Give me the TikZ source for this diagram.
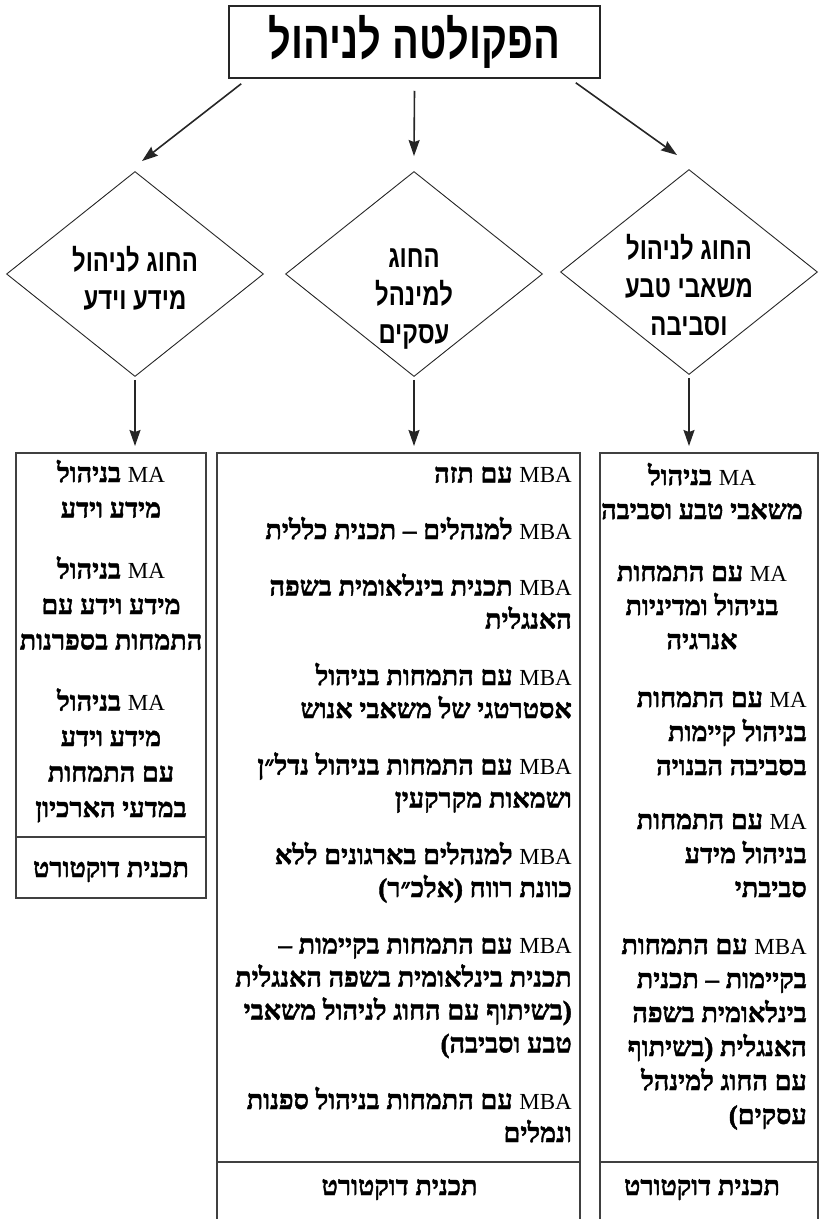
\documentclass[tikz,border=0pt]{standalone}
\usepackage{fontspec}
\setmainfont{Liberation Serif}
\newfontfamily\hebfont[Script=Hebrew,UprightFont=*,BoldFont=* Bold,BoldFeatures={FakeBold=1.6}]{Liberation Serif}
\newfontfamily\condfont[Script=Hebrew,FakeStretch=0.75,UprightFont=* Bold,BoldFont=* Bold]{Liberation Sans}
\newfontfamily\deptfont[Script=Hebrew,FakeStretch=0.77,UprightFont=* Bold,BoldFont=* Bold]{Liberation Sans}
\TeXXeTstate=1
\usetikzlibrary{arrows.meta,positioning,shapes.geometric}
\newcommand{\rl}[1]{\beginR#1\endR}
\newcommand{\lat}[1]{\beginL{\rmfamily\mdseries\fontsize{23}{\baselineskip}\selectfont#1}\endL}
\tikzset{
  faculty/.style={rectangle, draw=black!85, line width=1.5pt, minimum width=371pt,
    minimum height=72pt, inner sep=0pt, font=\condfont\fontsize{53}{60}\selectfont},
  dept/.style={diamond, draw=black!85, line width=0.9pt, minimum width=257pt,
    minimum height=205pt, inner sep=0pt},
  deptname/.style={inner sep=0pt, align=center, font=\deptfont\fontsize{31}{38}\selectfont},
  progbox/.style={rectangle, draw=black!75, line width=1.1pt, inner sep=0pt, outer sep=0pt},
  prog/.style={inner sep=0pt, font=\hebfont\bfseries\fontsize{27}{#1}\selectfont},
  prog/.default=34,
  flow/.style={-{Stealth[length=16pt,width=11pt,inset=2pt]}, line width=1.6pt, draw=black!85},
  rule/.style={line width=1.1pt, draw=black!75},
}

\begin{document}
\begin{tikzpicture}[x=1pt, y=-1pt]
  \useasboundingbox (0,0) rectangle (820,1219);
  \node[faculty] (fac) at (414.5,42) {\rl{הפקולטה לניהול}};
  % departments
  \node[dept, label={[deptname, name=knwname, yshift=-4pt]center:{\rl{החוג לניהול}\\\rl{מידע וידע}}}]
    (knw) at (135,274) {};
  \node[dept, label={[deptname, name=busname, yshift=-25pt]center:{\rl{החוג}\\\rl{למינהל}\\\rl{עסקים}}}]
    (bus) at (414,274) {};
  \node[dept, label={[deptname, name=envname, yshift=-13pt]center:{\rl{החוג לניהול}\\\rl{משאבי טבע}\\\rl{וסביבה}}}]
    (env) at (689,272) {};
  \draw[flow] ([xshift=13pt,yshift=-5pt]fac.south west) -- ([xshift=7pt,yshift=10pt]knw.north);
  \draw[flow] ([yshift=-12pt]fac.south) -- ([yshift=15pt]bus.north);
  \draw[flow] ([xshift=-25pt,yshift=-4pt]fac.south east) -- ([xshift=-12pt,yshift=14pt]env.north);
  % programme boxes
  \node[progbox, minimum width=190pt, minimum height=445pt] (lbox) at (111,675.5) {};
  \node[progbox, minimum width=363pt, minimum height=772pt] (mbox) at (398.5,839) {};
  \node[progbox, minimum width=218pt, minimum height=772pt] (rbox) at (709,839) {};
  \draw[flow, shorten <=3pt, shorten >=7pt] (knw.south) -- (knw.south |- lbox.north);
  \draw[flow, shorten <=3pt, shorten >=7pt] (bus.south) -- (bus.south |- mbox.north);
  \draw[flow, shorten <=3pt, shorten >=7pt] (env.south) -- (env.south |- rbox.north);
  \node[prog=35.5, anchor=base, align=center] (malist) at (111,817)
    {\rl{\lat{MA} בניהול}\\\rl{מידע וידע}\\[25.5pt]
     \rl{\lat{MA} בניהול}\\\rl{מידע וידע עם}\\\rl{התמחות בספרנות}\\[25.5pt]
     \rl{\lat{MA} בניהול}\\\rl{מידע וידע}\\\rl{עם התמחות}\\\rl{במדעי הארכיון}};
  \node[prog=33, anchor=base east, align=right] (mbalist) at (572,1142)
    {\rl{\lat{MBA} עם תזה}\\[23.5pt]
     \rl{\lat{MBA} למנהלים – תכנית כללית}\\[23.5pt]
     \rl{\lat{MBA} תכנית בינלאומית בשפה}\\\rl{האנגלית}\\[23.5pt]
     \rl{\lat{MBA} עם התמחות בניהול}\\\rl{אסטרטגי של משאבי אנוש}\\[23.5pt]
     \rl{\lat{MBA} עם התמחות בניהול נדל״ן}\\\rl{ושמאות מקרקעין}\\[23.5pt]
     \rl{\lat{MBA} למנהלים בארגונים ללא}\\\rl{כוונת רווח (אלכ״ר)}\\[23.5pt]
     \rl{\lat{MBA} עם התמחות בקיימות –}\\\rl{תכנית בינלאומית בשפה האנגלית}\\
     \rl{(בשיתוף עם החוג לניהול משאבי}\\\rl{טבע וסביבה)}\\[23.5pt]
     \rl{\lat{MBA} עם התמחות בניהול ספנות}\\\rl{ונמלים}};
  \node[prog, anchor=base, align=center] (envma) at (702,519)
    {\rl{\lat{MA} בניהול}\\\rl{משאבי טבע וסביבה}};
  \node[prog, anchor=base, align=center] (enrg) at (702,649)
    {\rl{\lat{MA} עם התמחות}\\\rl{בניהול ומדיניות}\\\rl{אנרגיה}};
  \node[prog, anchor=base east, align=right] (blt) at (807,775)
    {\rl{\lat{MA} עם התמחות}\\\rl{בניהול קיימות}\\\rl{בסביבה הבנויה}};
  \node[prog, anchor=base east, align=right] (envinf) at (807,897)
    {\rl{\lat{MA} עם התמחות}\\\rl{בניהול מידע}\\\rl{סביבתי}};
  \node[prog, anchor=base east, align=right] (sust) at (807,1124)
    {\rl{\lat{MBA} עם התמחות}\\\rl{בקיימות – תכנית}\\\rl{בינלאומית בשפה}\\
     \rl{האנגלית (בשיתוף}\\\rl{עם החוג למינהל}\\\rl{עסקים)}};
  % doctoral rows
  \draw[rule] ([yshift=61pt]lbox.south west) -- ([yshift=61pt]lbox.south east);
  \draw[rule] ([yshift=63pt]mbox.south west) -- ([yshift=63pt]mbox.south east);
  \draw[rule] ([yshift=63pt]rbox.south west) -- ([yshift=63pt]rbox.south east);
  \node[prog, anchor=base] (ldoc) at ([yshift=21pt]lbox.south) {\rl{תכנית דוקטורט}};
  \node[prog, anchor=base] (mdoc) at ([xshift=1pt,yshift=30pt]mbox.south) {\rl{תכנית דוקטורט}};
  \node[prog, anchor=base] (rdoc) at ([xshift=-7pt,yshift=30pt]rbox.south) {\rl{תכנית דוקטורט}};
\end{tikzpicture}
\end{document}
